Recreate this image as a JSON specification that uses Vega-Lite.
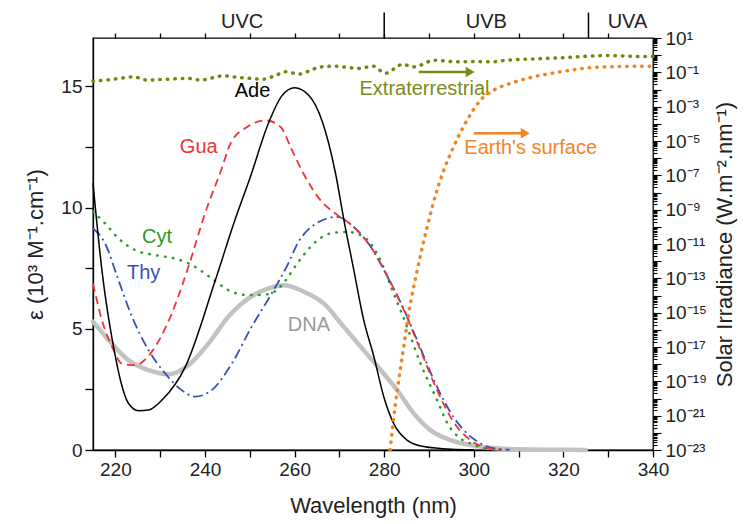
{
"$schema":"https://vega.github.io/schema/vega-lite/v6.json",
"width":560,"height":412,
"autosize":{"type":"none"},
"padding":{"left":93,"top":38,"right":92,"bottom":74},
"background":"white",
"config":{
 "font":"Liberation Sans",
 "view":{"stroke":"#000","strokeWidth":1.3},
 "axis":{"domainColor":"#000","domainWidth":1.3,"tickColor":"#000","tickWidth":1.3,"labelColor":"#222","labelFont":"Liberation Sans","labelFontSize":19,"titleFont":"Liberation Sans","titleFontSize":22,"titleFontWeight":"normal","titleColor":"#222","grid":false,"labelFlush":false,"labelOverlap":false},
 "text":{"font":"Liberation Sans"}
},
"datasets":{
 "eps":[
  {"s":"Ade","wl":215,"e":11.0},{"s":"Ade","wl":217,"e":7.4},{"s":"Ade","wl":220,"e":3.85},{"s":"Ade","wl":221.1,"e":2.9},{"s":"Ade","wl":222.9,"e":1.93},{"s":"Ade","wl":225.2,"e":1.62},{"s":"Ade","wl":227.4,"e":1.65},{"s":"Ade","wl":230.4,"e":2.06},{"s":"Ade","wl":235.6,"e":3.43},{"s":"Ade","wl":242.3,"e":7.0},{"s":"Ade","wl":246.7,"e":9.5},{"s":"Ade","wl":250,"e":11.2},{"s":"Ade","wl":254.2,"e":13.5},{"s":"Ade","wl":257.1,"e":14.6},{"s":"Ade","wl":260,"e":14.95},{"s":"Ade","wl":263.1,"e":14.65},{"s":"Ade","wl":266.1,"e":13.6},{"s":"Ade","wl":269.1,"e":11.45},{"s":"Ade","wl":271,"e":9.5},{"s":"Ade","wl":273.2,"e":7.44},{"s":"Ade","wl":275.4,"e":5.38},{"s":"Ade","wl":277.7,"e":3.85},{"s":"Ade","wl":279.9,"e":2.2},{"s":"Ade","wl":282.1,"e":1.1},{"s":"Ade","wl":285.1,"e":0.41},{"s":"Ade","wl":288.8,"e":0.14},{"s":"Ade","wl":295,"e":0.03},{"s":"Ade","wl":300,"e":0.01},
  {"s":"Gua","wl":215,"e":6.87},{"s":"Gua","wl":217,"e":5.36},{"s":"Gua","wl":219.6,"e":4.12},{"s":"Gua","wl":221.4,"e":3.57},{"s":"Gua","wl":224.4,"e":3.5},{"s":"Gua","wl":228.1,"e":4.05},{"s":"Gua","wl":232.6,"e":5.64},{"s":"Gua","wl":236.3,"e":7.56},{"s":"Gua","wl":240,"e":9.76},{"s":"Gua","wl":243.6,"e":11.55},{"s":"Gua","wl":245.7,"e":12.65},{"s":"Gua","wl":249.4,"e":13.33},{"s":"Gua","wl":253.5,"e":13.6},{"s":"Gua","wl":256.9,"e":13.33},{"s":"Gua","wl":259.1,"e":12.5},{"s":"Gua","wl":262,"e":11.4},{"s":"Gua","wl":265.8,"e":10.3},{"s":"Gua","wl":269.5,"e":9.7},{"s":"Gua","wl":273.2,"e":9.2},{"s":"Gua","wl":277.3,"e":8.3},{"s":"Gua","wl":280.8,"e":7.15},{"s":"Gua","wl":284.4,"e":5.77},{"s":"Gua","wl":288.1,"e":4.12},{"s":"Gua","wl":291.8,"e":2.47},{"s":"Gua","wl":295.5,"e":1.15},{"s":"Gua","wl":299.3,"e":0.4},{"s":"Gua","wl":303,"e":0.08},{"s":"Gua","wl":306,"e":0.01},
  {"s":"Thy","wl":215,"e":9.14},{"s":"Thy","wl":217.7,"e":8.52},{"s":"Thy","wl":220.7,"e":7.0},{"s":"Thy","wl":223.7,"e":5.5},{"s":"Thy","wl":227.4,"e":4.12},{"s":"Thy","wl":231.1,"e":3.16},{"s":"Thy","wl":234.8,"e":2.47},{"s":"Thy","wl":237.8,"e":2.2},{"s":"Thy","wl":241.5,"e":2.47},{"s":"Thy","wl":246,"e":3.57},{"s":"Thy","wl":250.4,"e":5.08},{"s":"Thy","wl":254.7,"e":6.4},{"s":"Thy","wl":258.6,"e":7.7},{"s":"Thy","wl":260.6,"e":8.5},{"s":"Thy","wl":264.3,"e":9.28},{"s":"Thy","wl":269.5,"e":9.62},{"s":"Thy","wl":273.2,"e":9.2},{"s":"Thy","wl":277,"e":8.38},{"s":"Thy","wl":280.7,"e":7.15},{"s":"Thy","wl":284.4,"e":5.8},{"s":"Thy","wl":288.1,"e":4.2},{"s":"Thy","wl":291.8,"e":2.6},{"s":"Thy","wl":295.5,"e":1.35},{"s":"Thy","wl":299.3,"e":0.55},{"s":"Thy","wl":301.5,"e":0.27},{"s":"Thy","wl":305,"e":0.05},{"s":"Thy","wl":308,"e":0.01},
  {"s":"Cyt","wl":215,"e":9.83},{"s":"Cyt","wl":217.7,"e":9.35},{"s":"Cyt","wl":220.7,"e":8.73},{"s":"Cyt","wl":224.4,"e":8.25},{"s":"Cyt","wl":228.9,"e":8.04},{"s":"Cyt","wl":233.3,"e":7.9},{"s":"Cyt","wl":237.1,"e":7.63},{"s":"Cyt","wl":241.5,"e":7.08},{"s":"Cyt","wl":245.2,"e":6.6},{"s":"Cyt","wl":249,"e":6.4},{"s":"Cyt","wl":252.7,"e":6.4},{"s":"Cyt","wl":255.7,"e":6.55},{"s":"Cyt","wl":258,"e":7.0},{"s":"Cyt","wl":260.6,"e":7.7},{"s":"Cyt","wl":264.3,"e":8.52},{"s":"Cyt","wl":268,"e":8.94},{"s":"Cyt","wl":271.7,"e":9.0},{"s":"Cyt","wl":275.4,"e":8.8},{"s":"Cyt","wl":278.4,"e":8.11},{"s":"Cyt","wl":282.1,"e":6.46},{"s":"Cyt","wl":285.1,"e":5.08},{"s":"Cyt","wl":288.1,"e":3.57},{"s":"Cyt","wl":291.8,"e":2.06},{"s":"Cyt","wl":294.1,"e":1.1},{"s":"Cyt","wl":297,"e":0.48},{"s":"Cyt","wl":299.3,"e":0.27},{"s":"Cyt","wl":303,"e":0.05},{"s":"Cyt","wl":306,"e":0.01},
  {"s":"DNA","wl":215,"e":5.3},{"s":"DNA","wl":218.5,"e":4.54},{"s":"DNA","wl":222.9,"e":3.71},{"s":"DNA","wl":227.4,"e":3.3},{"s":"DNA","wl":231.9,"e":3.13},{"s":"DNA","wl":236.3,"e":3.5},{"s":"DNA","wl":240.8,"e":4.4},{"s":"DNA","wl":245.2,"e":5.5},{"s":"DNA","wl":249.7,"e":6.26},{"s":"DNA","wl":254.2,"e":6.67},{"s":"DNA","wl":257.6,"e":6.8},{"s":"DNA","wl":262.1,"e":6.53},{"s":"DNA","wl":266.5,"e":6.05},{"s":"DNA","wl":271,"e":5.08},{"s":"DNA","wl":275.4,"e":4.12},{"s":"DNA","wl":279.2,"e":3.3},{"s":"DNA","wl":282.9,"e":2.47},{"s":"DNA","wl":286.6,"e":1.51},{"s":"DNA","wl":290.3,"e":0.82},{"s":"DNA","wl":294.8,"e":0.41},{"s":"DNA","wl":299.3,"e":0.2},{"s":"DNA","wl":305,"e":0.07},{"s":"DNA","wl":310,"e":0.03},{"s":"DNA","wl":318,"e":0.01},{"s":"DNA","wl":325,"e":0.0}
 ],
 "irr":[
  {"s":"ext","wl":215,"v":0.0316},{"s":"ext","wl":218,"v":0.0355},{"s":"ext","wl":221,"v":0.0447},{"s":"ext","wl":224,"v":0.055},{"s":"ext","wl":227,"v":0.0355},{"s":"ext","wl":230,"v":0.038},{"s":"ext","wl":233,"v":0.0417},{"s":"ext","wl":236,"v":0.0447},{"s":"ext","wl":239,"v":0.0355},{"s":"ext","wl":242,"v":0.05},{"s":"ext","wl":244,"v":0.063},{"s":"ext","wl":247,"v":0.0525},{"s":"ext","wl":250,"v":0.0447},{"s":"ext","wl":253,"v":0.0398},{"s":"ext","wl":256,"v":0.0708},{"s":"ext","wl":258,"v":0.107},{"s":"ext","wl":261,"v":0.0794},{"s":"ext","wl":263,"v":0.112},{"s":"ext","wl":265.5,"v":0.2},{"s":"ext","wl":269,"v":0.229},{"s":"ext","wl":272,"v":0.19},{"s":"ext","wl":274.5,"v":0.17},{"s":"ext","wl":277.5,"v":0.229},{"s":"ext","wl":280.3,"v":0.089},{"s":"ext","wl":282.5,"v":0.178},{"s":"ext","wl":284,"v":0.295},{"s":"ext","wl":286.5,"v":0.209},{"s":"ext","wl":288.5,"v":0.282},{"s":"ext","wl":291,"v":0.513},{"s":"ext","wl":294,"v":0.447},{"s":"ext","wl":297,"v":0.407},{"s":"ext","wl":300,"v":0.427},{"s":"ext","wl":304,"v":0.407},{"s":"ext","wl":307,"v":0.5},{"s":"ext","wl":310,"v":0.562},{"s":"ext","wl":313,"v":0.603},{"s":"ext","wl":316,"v":0.646},{"s":"ext","wl":320,"v":0.708},{"s":"ext","wl":323,"v":0.794},{"s":"ext","wl":326,"v":0.891},{"s":"ext","wl":330,"v":0.955},{"s":"ext","wl":334,"v":0.891},{"s":"ext","wl":338,"v":0.832},{"s":"ext","wl":340,"v":0.85},
  {"s":"sfc","wl":281.3,"v":1e-23},{"s":"sfc","wl":282.5,"v":5e-21},{"s":"sfc","wl":284,"v":2.5e-18},{"s":"sfc","wl":285.5,"v":1e-15},{"s":"sfc","wl":287.4,"v":3.2e-13},{"s":"sfc","wl":289.6,"v":1e-10},{"s":"sfc","wl":291.8,"v":1.4e-8},{"s":"sfc","wl":293.3,"v":2e-7},{"s":"sfc","wl":295.5,"v":4.7e-6},{"s":"sfc","wl":298.5,"v":1.66e-4},{"s":"sfc","wl":301.5,"v":2.4e-3},{"s":"sfc","wl":304.5,"v":9.3e-3},{"s":"sfc","wl":308.2,"v":0.0229},{"s":"sfc","wl":313.4,"v":0.055},{"s":"sfc","wl":319.4,"v":0.107},{"s":"sfc","wl":326.8,"v":0.195},{"s":"sfc","wl":333,"v":0.219},{"s":"sfc","wl":340,"v":0.229}
 ],
 "lab":[
  {"t":"Ade","wl":250.6,"e":14.8},{"t":"Gua","wl":238.6,"e":12.5},{"t":"Cyt","wl":229.3,"e":8.8},{"t":"Thy","wl":226.3,"e":7.3},{"t":"DNA","wl":263.2,"e":5.15},{"t":"Extraterrestrial","wl":289,"e":14.88},{"t":"Earth's surface","wl":312.7,"e":12.45}
 ],
 "arrows":[
  {"t":"Extraterrestrial","a":287.7,"b":299.2,"e":15.6},{"t":"Earth's surface","a":300,"b":311.5,"e":13.07}
 ],
 "uvb":[{"wl":280,"lo":17,"hi":18.05},{"wl":325.6,"lo":17,"hi":18.05}],
 "uvt":[{"t":"UVC","wl":248.3,"e":17.67},{"t":"UVB","wl":302.8,"e":17.67},{"t":"UVA","wl":334.3,"e":17.67}]
},
"layer":[
 {"layer":[
  {"data":{"name":"eps"},"transform":[{"filter":"datum.s === 'DNA'"}],
   "mark":{"type":"line","color":"#c2c2c2","strokeWidth":4.5,"interpolate":"monotone","strokeCap":"round"},
   "encoding":{
    "x":{"field":"wl","type":"quantitative","scale":{"domain":[215,340],"nice":false,"zero":false},
     "axis":{"orient":"bottom","values":[220,230,240,250,260,270,280,290,300,310,320,330,340],"labelExpr":"datum.value % 20 == 0 ? datum.label : ''","tickSize":7,"labelPadding":3,"title":"Wavelength (nm)","titlePadding":16}},
    "y":{"field":"e","type":"quantitative","scale":{"domain":[0,17],"nice":false,"zero":false},
     "axis":{"orient":"left","values":[0,2.5,5,7.5,10,12.5,15],"labelExpr":"datum.value % 5 == 0 ? datum.label : ''","tickSize":8,"labelPadding":3,"title":"ε (10³ M⁻¹.cm⁻¹)","titlePadding":13}}}},
  {"data":{"name":"eps"},"transform":[{"filter":"datum.s === 'Cyt'"}],
   "mark":{"type":"line","color":"#2a9a2a","strokeWidth":2.5,"strokeDash":[0.5,7.5],"strokeCap":"round","interpolate":"monotone"},
   "encoding":{"x":{"field":"wl","type":"quantitative"},"y":{"field":"e","type":"quantitative"}}},
  {"data":{"name":"eps"},"transform":[{"filter":"datum.s === 'Thy'"}],
   "mark":{"type":"line","color":"#3a4db8","strokeWidth":1.8,"strokeDash":[10,4,2,4],"interpolate":"monotone"},
   "encoding":{"x":{"field":"wl","type":"quantitative"},"y":{"field":"e","type":"quantitative"}}},
  {"data":{"name":"eps"},"transform":[{"filter":"datum.s === 'Gua'"}],
   "mark":{"type":"line","color":"#ee3535","strokeWidth":1.8,"strokeDash":[8,5],"interpolate":"monotone"},
   "encoding":{"x":{"field":"wl","type":"quantitative"},"y":{"field":"e","type":"quantitative"}}},
  {"data":{"name":"eps"},"transform":[{"filter":"datum.s === 'Ade'"}],
   "mark":{"type":"line","color":"#000","strokeWidth":1.5,"interpolate":"monotone"},
   "encoding":{"x":{"field":"wl","type":"quantitative"},"y":{"field":"e","type":"quantitative"}}},
  {"data":{"name":"lab"},
   "mark":{"type":"text","fontSize":20,"align":"center","baseline":"middle"},
   "encoding":{"x":{"field":"wl","type":"quantitative"},"y":{"field":"e","type":"quantitative"},"text":{"field":"t"},
    "color":{"field":"t","type":"nominal","scale":{"domain":["Ade","Gua","Cyt","Thy","DNA","Extraterrestrial","Earth's surface"],"range":["#000000","#ee3535","#2a9a2a","#3a4db8","#9a9a9a","#7d8a18","#f58426"]},"legend":null}}},
  {"data":{"name":"arrows"},
   "mark":{"type":"rule","strokeWidth":2.5},
   "encoding":{"x":{"field":"a","type":"quantitative"},"x2":{"field":"b"},"y":{"field":"e","type":"quantitative"},
    "color":{"field":"t","type":"nominal","legend":null}}},
  {"data":{"name":"arrows"},
   "mark":{"type":"point","shape":"triangle-right","filled":true,"size":110,"opacity":1},
   "encoding":{"x":{"field":"b","type":"quantitative"},"y":{"field":"e","type":"quantitative"},
    "color":{"field":"t","type":"nominal","legend":null}}},
  {"data":{"name":"uvb"},
   "mark":{"type":"rule","color":"#000","strokeWidth":1.5},
   "encoding":{"x":{"field":"wl","type":"quantitative"},"y":{"field":"lo","type":"quantitative"},"y2":{"field":"hi"}}},
  {"data":{"name":"uvt"},
   "mark":{"type":"text","fontSize":20,"align":"center","baseline":"middle","color":"#222"},
   "encoding":{"x":{"field":"wl","type":"quantitative"},"y":{"field":"e","type":"quantitative"},"text":{"field":"t"}}}
 ]},
 {"layer":[
  {"data":{"name":"irr"},"transform":[{"filter":"datum.s === 'ext'"}],
   "mark":{"type":"line","color":"#76840e","strokeWidth":3.5,"strokeDash":[0.5,7],"strokeCap":"round","interpolate":"monotone"},
   "encoding":{
    "x":{"field":"wl","type":"quantitative","scale":{"domain":[215,340],"nice":false,"zero":false},
     "axis":{"orient":"top","values":[220,230,240,250,260,270,280,290,300,310,320,330],"labels":false,"ticks":true,"tickSize":5,"domain":false,"title":null}},
    "y":{"field":"v","type":"quantitative","scale":{"type":"log","domain":[1e-23,10],"nice":false},
     "axis":{"orient":"right","title":"Solar Irradiance (W.m⁻².nm⁻¹)","titleAngle":270,"titlePadding":30,
      "ticks":true,"domain":false,"tickWidth":1.1,
      "tickSize":{"condition":{"test":"abs(log(datum.value)/LN10 - round(log(datum.value)/LN10)) < 0.01","value":8},"value":4},
      "labelPadding":4,
      "labelExpr":"abs(log(datum.value)/LN10 - round(log(datum.value)/LN10)) < 0.01 && abs(round(log(datum.value)/LN10)) % 2 == 1 ? '10' + (round(log(datum.value)/LN10) < 0 ? '⁻' : '') + (abs(round(log(datum.value)/LN10)) >= 10 ? substring('⁰¹²³⁴⁵⁶⁷⁸⁹', floor(abs(round(log(datum.value)/LN10)) / 10), floor(abs(round(log(datum.value)/LN10)) / 10) + 1) : '') + substring('⁰¹²³⁴⁵⁶⁷⁸⁹', abs(round(log(datum.value)/LN10)) % 10, abs(round(log(datum.value)/LN10)) % 10 + 1) : ''",
      "values":[1e-23,2e-23,3e-23,4e-23,5e-23,6e-23,7e-23,8e-23,9e-23,1e-22,2e-22,3e-22,4e-22,5e-22,6e-22,7e-22,8e-22,9e-22,1e-21,2e-21,3e-21,4e-21,5e-21,6e-21,7e-21,8e-21,9e-21,1e-20,2e-20,3e-20,4e-20,5e-20,6e-20,7e-20,8e-20,9e-20,1e-19,2e-19,3e-19,4e-19,5e-19,6e-19,7e-19,8e-19,9e-19,1e-18,2e-18,3e-18,4e-18,5e-18,6e-18,7e-18,8e-18,9e-18,1e-17,2e-17,3e-17,4e-17,5e-17,6e-17,7e-17,8e-17,9e-17,1e-16,2e-16,3e-16,4e-16,5e-16,6e-16,7e-16,8e-16,9e-16,1e-15,2e-15,3e-15,4e-15,5e-15,6e-15,7e-15,8e-15,9e-15,1e-14,2e-14,3e-14,4e-14,5e-14,6e-14,7e-14,8e-14,9e-14,1e-13,2e-13,3e-13,4e-13,5e-13,6e-13,7e-13,8e-13,9e-13,1e-12,2e-12,3e-12,4e-12,5e-12,6e-12,7e-12,8e-12,9e-12,1e-11,2e-11,3e-11,4e-11,5e-11,6e-11,7e-11,8e-11,9e-11,1e-10,2e-10,3e-10,4e-10,5e-10,6e-10,7e-10,8e-10,9e-10,1e-9,2e-9,3e-9,4e-9,5e-9,6e-9,7e-9,8e-9,9e-9,1e-8,2e-8,3e-8,4e-8,5e-8,6e-8,7e-8,8e-8,9e-8,1e-7,2e-7,3e-7,4e-7,5e-7,6e-7,7e-7,8e-7,9e-7,1e-6,2e-6,3e-6,4e-6,5e-6,6e-6,7e-6,8e-6,9e-6,1e-5,2e-5,3e-5,4e-5,5e-5,6e-5,7e-5,8e-5,9e-5,1e-4,2e-4,3e-4,4e-4,5e-4,6e-4,7e-4,8e-4,9e-4,1e-3,2e-3,3e-3,4e-3,5e-3,6e-3,7e-3,8e-3,9e-3,0.01,0.02,0.03,0.04,0.05,0.06,0.07,0.08,0.09,0.1,0.2,0.3,0.4,0.5,0.6,0.7,0.8,0.9,1,2,3,4,5,6,7,8,9,10]}}}},
  {"data":{"name":"irr"},"transform":[{"filter":"datum.s === 'sfc'"}],
   "mark":{"type":"line","color":"#f58220","strokeWidth":3.5,"strokeDash":[0.5,7],"strokeCap":"round","interpolate":"monotone"},
   "encoding":{"x":{"field":"wl","type":"quantitative"},"y":{"field":"v","type":"quantitative"}}}
 ]}
],
"resolve":{"scale":{"x":"independent","y":"independent"}}
}
